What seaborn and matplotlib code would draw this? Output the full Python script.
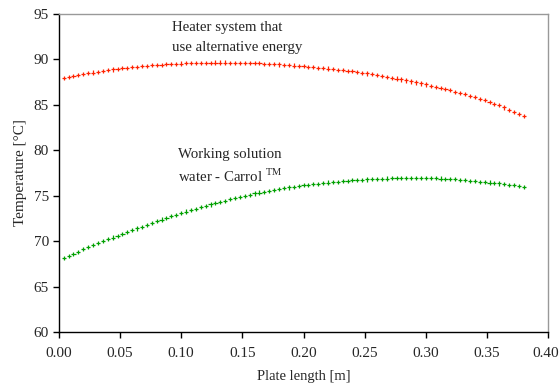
import numpy as np
import pandas as pd
import matplotlib
matplotlib.use("Agg")
import matplotlib.pyplot as plt
import matplotlib.transforms as mtransforms
import seaborn as sns

# Plate length positions [m]
plate_length = np.round(np.arange(1, 96) * 0.004, 3)

heater_temp = [
    88.00, 88.09, 88.18, 88.28, 88.38, 88.47, 88.56, 88.65, 88.74, 88.83,
    88.90, 88.97, 89.03, 89.09, 89.15, 89.20, 89.26, 89.31, 89.36, 89.40,
    89.43, 89.46, 89.49, 89.52, 89.55, 89.57, 89.59, 89.61, 89.63, 89.64,
    89.65, 89.66, 89.66, 89.66, 89.65, 89.65, 89.64, 89.63, 89.62, 89.60,
    89.57, 89.54, 89.51, 89.48, 89.45, 89.41, 89.37, 89.33, 89.29, 89.25,
    89.20, 89.15, 89.10, 89.05, 89.00, 88.94, 88.88, 88.82, 88.76, 88.70,
    88.62, 88.54, 88.46, 88.38, 88.30, 88.20, 88.10, 88.00, 87.90, 87.80,
    87.69, 87.58, 87.47, 87.36, 87.25, 87.12, 86.99, 86.86, 86.73, 86.60,
    86.45, 86.30, 86.15, 86.00, 85.85, 85.67, 85.49, 85.31, 85.13, 84.95,
    84.71, 84.47, 84.23, 83.99, 83.75,
]

solution_temp = [
    68.10, 68.35, 68.60, 68.85, 69.10, 69.32, 69.54, 69.76, 69.98, 70.20,
    70.40, 70.60, 70.80, 71.00, 71.20, 71.40, 71.60, 71.80, 72.00, 72.20,
    72.38, 72.56, 72.74, 72.92, 73.10, 73.26, 73.42, 73.58, 73.74, 73.90,
    74.04, 74.18, 74.32, 74.46, 74.60, 74.73, 74.86, 74.99, 75.12, 75.25,
    75.35, 75.45, 75.55, 75.65, 75.75, 75.83, 75.91, 75.99, 76.07, 76.15,
    76.21, 76.27, 76.33, 76.39, 76.45, 76.50, 76.55, 76.60, 76.65, 76.70,
    76.73, 76.76, 76.79, 76.82, 76.85, 76.87, 76.89, 76.91, 76.93, 76.95,
    76.95, 76.96, 76.96, 76.95, 76.95, 76.93, 76.91, 76.89, 76.87, 76.85,
    76.80, 76.75, 76.70, 76.65, 76.60, 76.55, 76.50, 76.45, 76.40, 76.35,
    76.28, 76.21, 76.14, 76.07, 76.00,
]

x_ticks = [0.00, 0.05, 0.10, 0.15, 0.20, 0.25, 0.30, 0.35, 0.40]
y_ticks = [60, 65, 70, 75, 80, 85, 90, 95]

sns.set_style("white")
plt.rcParams["font.family"] = ["Liberation Serif", "DejaVu Serif"]
plt.rcParams["mathtext.fontset"] = "custom"
plt.rcParams["mathtext.rm"] = "Liberation Serif"

df = pd.DataFrame({
    "x": np.concatenate([plate_length, plate_length]),
    "T": heater_temp + solution_temp,
    "series": ["heater"] * len(heater_temp) + ["solution"] * len(solution_temp),
})

fig = plt.figure(figsize=(5.6, 3.89), dpi=100)
ax = fig.add_axes([0.105, 0.1465, 0.874, 0.8175])

sns.scatterplot(data=df, x="x", y="T", hue="series",
                palette={"heater": "#ff2200", "solution": "#00a000"},
                marker="+", s=9, linewidth=0.9, legend=False, ax=ax)

ax.set_xlim(0, 0.40)
ax.set_ylim(60, 95)
ax.set_xticks(x_ticks)
ax.set_xticklabels([f"{v:.2f}" for v in x_ticks])
ax.set_yticks(y_ticks)
ax.set_xlabel("Plate length [m]", fontsize=10.5, labelpad=7)
ax.set_ylabel("Temperature [°C]", fontsize=11, labelpad=5)
ax.tick_params(axis="both", labelsize=11, direction="out", length=4, width=1,
               color="black", bottom=True, left=True, pad=3)
ax.tick_params(axis="x", pad=7)

# keep the last tick label inside the figure
last = ax.get_xticklabels()[-1]
last.set_transform(last.get_transform() +
                   mtransforms.ScaledTranslation(-3 / 100, 0, fig.dpi_scale_trans))

for side in ["left", "bottom"]:
    ax.spines[side].set_color("black")
    ax.spines[side].set_linewidth(1.0)
for side in ["top", "right"]:
    ax.spines[side].set_color("#999999")
    ax.spines[side].set_linewidth(1.0)

ax.text(0.0924, 93.55, "Heater system that", fontsize=10.7, ha="left", va="center")
ax.text(0.0924, 91.35, "use alternative energy", fontsize=10.7, ha="left", va="center")
ax.text(0.0973, 79.5, "Working solution", fontsize=10.7, ha="left", va="center")
ax.text(0.0973, 77.1, r"water - Carrol $^{\rm TM}$", fontsize=10.7, ha="left", va="center")

fig.savefig("out.png", dpi=100)
